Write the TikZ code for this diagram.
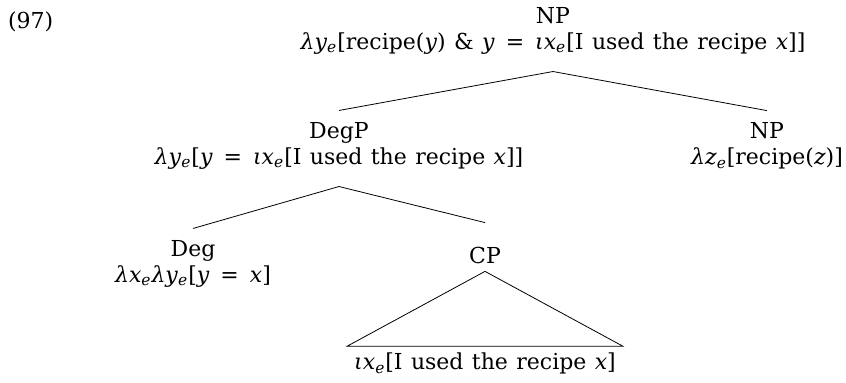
\documentclass[tikz,border=0pt]{standalone}
\usepackage{fontspec}
\setmainfont{DejaVu Serif}[WordSpace=1.2]
\usepackage{tikz}
\newcommand{\lam}[1]{\textit{λ#1}\textsubscript{\textit{e}}}
\newcommand{\iot}[1]{\textit{ι#1}\textsubscript{\textit{e}}}
\newcommand{\eqs}{\enspace=\enspace}

\begin{document}
\begin{tikzpicture}[x=0.5pt,y=-0.5pt,
		every node/.style={align=center,font=\fontsize{11}{13}\selectfont},
		edge from parent path={([yshift=-5pt]\tikzparentnode.south) -- ([yshift=2.5pt]\tikzchildnode.north)},
		cpedge/.style={edge from parent path={([yshift=-5pt]\tikzparentnode.south) -- ([yshift=9pt]\tikzchildnode.north)}},
		level 1/.style={sibling distance=214pt,level distance=57.5pt},
		level 2/.style={sibling distance=146pt,level distance=59pt},
		level 3/.style={level distance=57pt}]
	\useasboundingbox (0,0) rectangle (846,383);
	\node[anchor=base west] (ex) at (1,29) {(97)};
	\node (np) at (553,31) {NP\\ \lam{y}[recipe(\textit{y}) \& \textit{y}\eqs\iot{x}[I used the recipe \textit{x}]]}
		child {node (degp) {DegP\\ \lam{y}[\textit{y}\eqs\iot{x}[I used the recipe \textit{x}]]}
				child {node (deg) {Deg\\ \lam{x}\lam{y}[\textit{y}\eqs\textit{x}]}}
				child[cpedge] {node[anchor=base] (cp) {CP}
						child {node[anchor=base] (cpbody) {\iot{x}[I used the recipe \textit{x}]}
							edge from parent[draw=none]}}}
		child {node (npr) {NP\\ \lam{z}[recipe(\textit{z})]}};
	\draw (cp.south) -- (cpbody.north west) -- (cpbody.north east) -- cycle;
\end{tikzpicture}
\end{document}
